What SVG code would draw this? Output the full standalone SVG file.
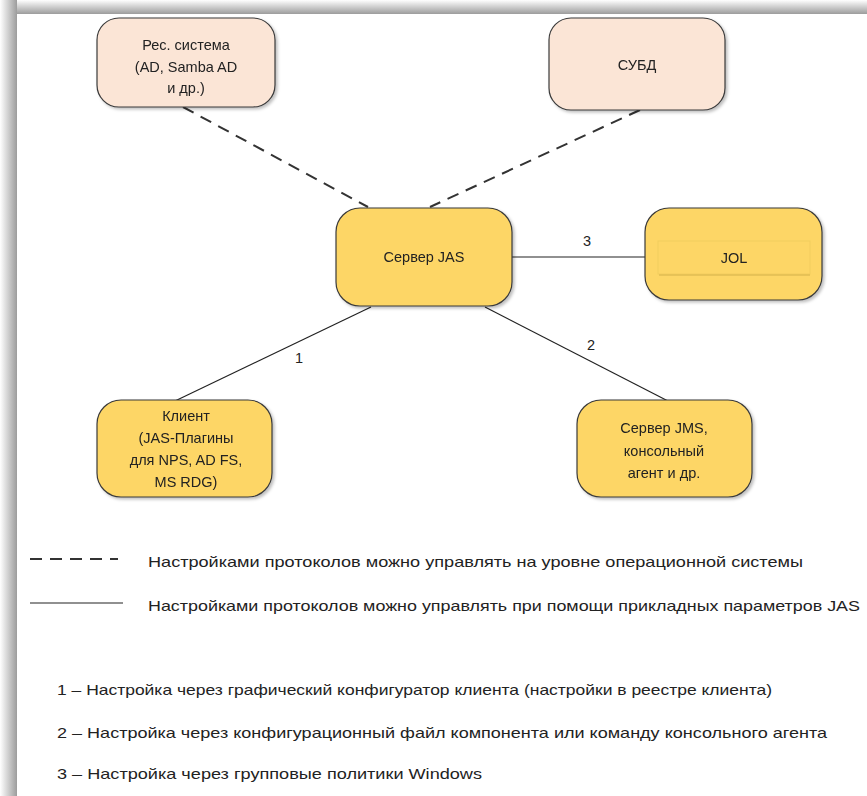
<svg xmlns="http://www.w3.org/2000/svg" width="867" height="796" viewBox="0 0 867 796">
<defs>
<linearGradient id="gTop" x1="0" y1="0" x2="0" y2="1"><stop offset="0" stop-color="#ffffff"/><stop offset="1" stop-color="#9c9c9c"/></linearGradient>
<linearGradient id="gLeft" x1="0" y1="0" x2="1" y2="0"><stop offset="0" stop-color="#ffffff"/><stop offset="1" stop-color="#9c9c9c"/></linearGradient>
<filter id="sh" x="-10%" y="-10%" width="125%" height="125%"><feDropShadow dx="2" dy="2" stdDeviation="1.5" flood-color="#000" flood-opacity="0.25"/></filter>
</defs>
<style>
.peach{fill:#FBE5D6;stroke:#3a3a3a;stroke-width:1.2}
.gold{fill:#FDD666;stroke:#3a3a3a;stroke-width:1.2}
.t{font-family:"Liberation Sans",Arial,sans-serif;font-size:14.5px;fill:#222;text-anchor:middle}
.l{font-family:"Liberation Sans",Arial,sans-serif;font-size:15px;fill:#222}
.solid{stroke:#222;stroke-width:1.2;fill:none}
.dash{stroke:#333;stroke-width:2;stroke-dasharray:12 8;fill:none}
</style>
<rect width="867" height="796" fill="#fff"/>
<rect x="0" y="0" width="867" height="14" fill="url(#gTop)"/>
<rect x="0" y="0" width="17" height="796" fill="url(#gLeft)"/>
<path d="M17 14 H867 V796 H17 Z" fill="#fff"/>

<g id="connectors">
<line class="dash" x1="183" y1="107" x2="368" y2="207"/>
<line class="dash" x1="640" y1="110" x2="430" y2="207"/>
<line class="solid" x1="512" y1="257" x2="645" y2="257"/>
<line class="solid" x1="371" y1="307" x2="175" y2="401"/>
<line class="solid" x1="485" y1="307" x2="668" y2="401"/>
<text class="t" x="587" y="246">3</text>
<text class="t" x="299" y="363">1</text>
<text class="t" x="591" y="350">2</text>
</g>

<g id="res" filter="url(#sh)">
<rect class="peach" x="97" y="18" width="178" height="89" rx="22"/>
<text class="t" x="186" y="50">Рес. система</text>
<text class="t" x="186" y="72">(AD, Samba AD</text>
<text class="t" x="186" y="93">и др.)</text>
</g>

<g id="subd" filter="url(#sh)">
<rect class="peach" x="549" y="18" width="176" height="92" rx="22"/>
<text class="t" x="637" y="70">СУБД</text>
</g>

<g id="jas" filter="url(#sh)">
<rect class="gold" x="336" y="208" width="176" height="98" rx="24"/>
<text class="t" x="424" y="262">Сервер JAS</text>
</g>

<g id="jol" filter="url(#sh)">
<rect class="gold" x="645" y="208" width="177" height="92" rx="24"/>
<rect x="658" y="241" width="152" height="33" fill="none" stroke="#f2cd5e" stroke-width="1"/>
<line x1="659" y1="275" x2="810" y2="275" stroke="#e0bd55" stroke-width="1.5"/>
<text class="t" x="734" y="263">JOL</text>
</g>

<g id="client" filter="url(#sh)">
<rect class="gold" x="97" y="400" width="175" height="97" rx="24"/>
<text class="t" x="186" y="421">Клиент</text>
<text class="t" x="186" y="443">(JAS-Плагины</text>
<text class="t" x="186" y="465">для NPS, AD FS,</text>
<text class="t" x="186" y="487">MS RDG)</text>
</g>

<g id="jms" filter="url(#sh)">
<rect class="gold" x="577" y="400" width="175" height="97" rx="24"/>
<text class="t" x="664" y="433">Сервер JMS,</text>
<text class="t" x="664" y="456">консольный</text>
<text class="t" x="664" y="478">агент и др.</text>
</g>

<g id="legend">
<line class="dash" x1="30" y1="559" x2="118" y2="559" stroke-dasharray="12 6"/>
<line class="solid" x1="30" y1="603" x2="123" y2="603"/>
<text class="l" x="148" y="567" textLength="655" lengthAdjust="spacingAndGlyphs">Настройками протоколов можно управлять на уровне операционной системы</text>
<text class="l" x="148" y="611" textLength="712" lengthAdjust="spacingAndGlyphs">Настройками протоколов можно управлять при помощи прикладных параметров JAS</text>
<text class="l" x="57" y="695" textLength="715" lengthAdjust="spacingAndGlyphs">1 – Настройка через графический конфигуратор клиента (настройки в реестре клиента)</text>
<text class="l" x="57" y="738" textLength="770" lengthAdjust="spacingAndGlyphs">2 – Настройка через конфигурационный файл компонента или команду консольного агента</text>
<text class="l" x="57" y="779" textLength="425" lengthAdjust="spacingAndGlyphs">3 – Настройка через групповые политики Windows</text>
</g>
</svg>
